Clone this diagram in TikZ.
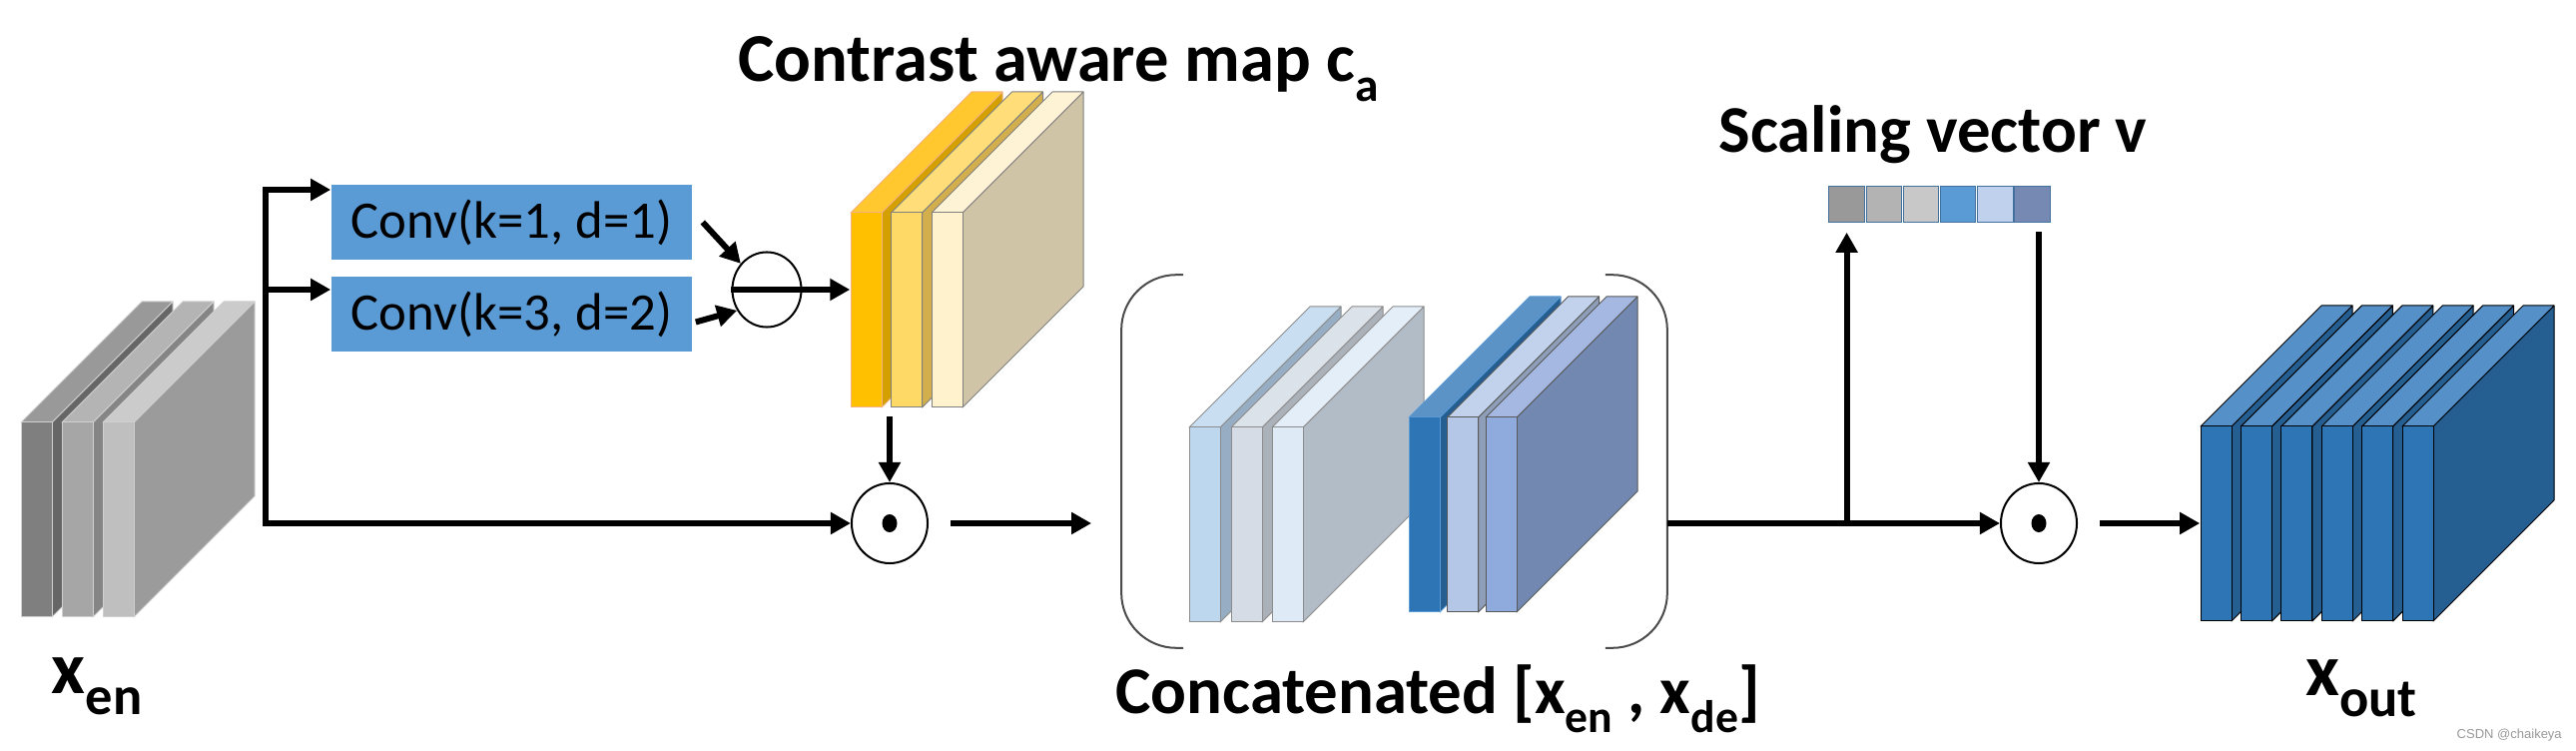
\documentclass[tikz,border=0pt]{standalone}
\usepackage{fontspec}
\setmainfont{Carlito}
\newfontfamily\markfont{Liberation Sans}
\usepackage{tikz}
\usetikzlibrary{arrows.meta,shapes.geometric,calc,positioning}

\definecolor{convblue}{HTML}{5B9BD5}
\definecolor{gAf}{HTML}{7F7F7F}\definecolor{gAt}{HTML}{999999}\definecolor{gAs}{HTML}{666666}
\definecolor{gBf}{HTML}{A6A6A6}\definecolor{gBt}{HTML}{B4B4B4}\definecolor{gBs}{HTML}{858585}
\definecolor{gCf}{HTML}{BFBFBF}\definecolor{gCt}{HTML}{CBCBCB}\definecolor{gCs}{HTML}{9B9B9B}
\definecolor{gEdge}{HTML}{D0D0D0}
\definecolor{yAf}{HTML}{FFC000}\definecolor{yAt}{HTML}{FFC82E}\definecolor{yAs}{HTML}{D4A000}
\definecolor{yBf}{HTML}{FFD966}\definecolor{yBt}{HTML}{FFDE7A}\definecolor{yBs}{HTML}{D2AE4C}
\definecolor{yCf}{HTML}{FFF2CC}\definecolor{yCt}{HTML}{FFF3D6}\definecolor{yCs}{HTML}{CFC4A6}
\definecolor{yEdge}{HTML}{F4B183}
\definecolor{lAf}{HTML}{BDD7EE}\definecolor{lAt}{HTML}{C9DEF1}\definecolor{lAs}{HTML}{97ADC3}
\definecolor{lBf}{HTML}{D6DCE5}\definecolor{lBt}{HTML}{DCE2E9}\definecolor{lBs}{HTML}{ABB1B8}
\definecolor{lCf}{HTML}{DEEBF7}\definecolor{lCt}{HTML}{E3EEF9}\definecolor{lCs}{HTML}{B2BCC6}
\definecolor{rAf}{HTML}{2E75B6}\definecolor{rAt}{HTML}{5B93C7}\definecolor{rAs}{HTML}{255E91}
\definecolor{rBf}{HTML}{B4C7E7}\definecolor{rBt}{HTML}{C2D2EC}\definecolor{rBs}{HTML}{8E9DB8}
\definecolor{rCf}{HTML}{8FAADC}\definecolor{rCt}{HTML}{A5B8E2}\definecolor{rCs}{HTML}{7388B0}
\definecolor{oF}{HTML}{2E75B6}\definecolor{oT}{HTML}{5590C8}\definecolor{oS}{HTML}{255E91}
\definecolor{vecA}{HTML}{999999}\definecolor{vecB}{HTML}{B3B3B3}\definecolor{vecC}{HTML}{C8C8C8}
\definecolor{vecD}{HTML}{5B9BD5}\definecolor{vecE}{HTML}{BFD1EC}\definecolor{vecF}{HTML}{7589B3}
\definecolor{cellEdge}{HTML}{41719C}

\tikzstyle{arrow}=[->,line width=.06cm,draw=black]
\tikzstyle{conv}=[rectangle,fill=convblue,inner sep=0pt,minimum width=3.61cm,
                  minimum height=.75cm,font=\fontsize{15}{16}\selectfont]
\tikzstyle{opcirc}=[ellipse,draw=black,line width=.02cm,fill=white,
                    minimum width=.69cm,minimum height=.75cm,inner sep=0pt]
\tikzstyle{odot}=[ellipse,draw=black,line width=.02cm,fill=white,
                  minimum width=.76cm,minimum height=.8cm,inner sep=0pt]
\tikzstyle{cell}=[rectangle,draw=cellEdge,line width=.01cm,minimum size=.355cm,inner sep=0pt]
\tikzstyle{block}=[rectangle,inner sep=0pt,minimum height=1.95cm]
\tikzstyle{title}=[inner sep=0pt,anchor=base,font=\fontsize{19}{22}\selectfont\bfseries]
\tikzstyle{varname}=[inner sep=0pt,anchor=base,font=\fontsize{21}{24}\selectfont\bfseries]
\tikzstyle{catframe}=[draw=black!70,line width=.02cm,rounded corners=.55cm]

% one feature map slab: x, top y, front, top, side, edge
\newcommand{\featslab}[6]{%
  \filldraw[draw=#6,fill=#5,line width=.01cm,line join=round]
    (#1+31,#2) -- ++(121,-121) -- ++(0,195) -- ++(-121,121) -- cycle;
  \filldraw[draw=#6,fill=#4,line width=.01cm,line join=round]
    (#1,#2) -- ++(121,-121) -- ++(31,0) -- ++(-121,121) -- cycle;
  \filldraw[draw=#6,fill=#3,line width=.01cm] (#1,#2) rectangle ++(31,195);}
\newcommand{\lowidx}[2]{\raisebox{-.28em}{\fontsize{#1}{#1}\selectfont #2}}

\begin{document}
\begin{tikzpicture}[>={Triangle[length=.2cm,width=.21cm]},x=.01cm,y=-.01cm]
  \useasboundingbox (0,0) rectangle (2580,752);
  \fill[white] (0,0) rectangle (2580,752);

	% feature maps
	\featslab{21}{423}{gAf}{gAt}{gAs}{gEdge}
	\featslab{62}{423}{gBf}{gBt}{gBs}{gEdge}
	\featslab{103}{423}{gCf}{gCt}{gCs}{gEdge}
	\featslab{852}{213}{yAf}{yAt}{yAs}{yEdge}
	\featslab{892.5}{213}{yBf}{yBt}{yBs}{black!50}
	\featslab{933}{213}{yCf}{yCt}{yCs}{black!50}
	\featslab{1191}{428}{lAf}{lAt}{lAs}{black!45}
	\featslab{1233}{428}{lBf}{lBt}{lBs}{black!45}
	\featslab{1274}{428}{lCf}{lCt}{lCs}{black!45}
	\featslab{1411}{418}{rAf}{rAt}{rAs}{convblue}
	\featslab{1449.5}{418}{rBf}{rBt}{rBs}{black!65}
	\featslab{1488}{418}{rCf}{rCt}{rCs}{black!65}
	\foreach \i in {0,...,5}
	  \featslab{2204+40.4*\i}{427}{oF}{oT}{oS}{black};

	\node[block,minimum width=1.13cm] (xen) at (77.5,520.5) {};
	\node[block,minimum width=1.12cm] (ca) at (908,310.5) {};
	\node[block,minimum width=2.33cm] (xout) at (2320.5,524.5) {};
	\node[inner sep=0pt,minimum width=5.45cm,minimum height=3.72cm] (cat) at (1396.5,462) {};

	\node[conv] (conv1) at (512.5,222.5) {Conv(k=1, d=1)};
	\node[conv] (conv2) at (512.5,314.5) {Conv(k=3, d=2)};
	\node[opcirc] (sub) at (768,290) {};
	\node[odot] (mul1) at (891,524) {};
	\node[odot] (mul2) at (2042,524) {};
	\fill (mul1.center) ellipse (7.5 and 9);
	\fill (mul2.center) ellipse (7.5 and 9);

	\foreach \c [count=\i] in {vecA,vecB,vecC,vecD,vecE,vecF}
	  \node[cell,fill=\c] (v\i) at (1812.4+37.2*\i,204.5) {};

	\coordinate (br1) at (266,190);
	\coordinate (br2) at (266,290);
	\coordinate (up) at (v1.south |- mul2);

	% brackets
	\draw[catframe] ($(cat.north west)+(62,0)$) -- (cat.north west)
	                -- (cat.south west) -- ($(cat.south west)+(62,0)$);
	\draw[catframe] ($(cat.north east)+(-62,0)$) -- (cat.north east)
	                -- (cat.south east) -- ($(cat.south east)+(-62,0)$);

	% connections
	\draw[arrow] ($(br1)+(-3,0)$) -- (conv1.west |- br1);
	\draw[arrow] (br2) -- (conv2.west |- br2);
	\draw[arrow] (br1) |- (mul1.west);
	\draw[arrow] ($(conv1.east)+(10,0)$) -- (sub.135);
	\draw[arrow] ($(conv2.east)+(3,8)$) -- (sub.215);
	\draw[arrow] (sub.west) -- (sub.center -| ca.west);
	\draw[arrow] ($(ca.south -| mul1)+(0,8)$) -- (mul1.north);
	\draw[arrow] ($(mul1.east)+(22,0)$) -- ($(cat.west |- mul1)+(-30,0)$);
	\draw[arrow] (cat.east |- mul2) -- (mul2.west);
	\draw[arrow] (up) -- ($(v1.south)+(0,10)$);
	\draw[arrow] ($(v6.south -| mul2)+(0,9)$) -- (mul2.north);
	\draw[arrow] ($(mul2.east)+(22,0)$) -- (xout.west |- mul2);

	% labels
	\node[varname] (lxen) at (97,695) {x\lowidx{15.5}{en}};
	\node[varname] (lxout) at (2365,697) {x\lowidx{15.5}{out}};
	\node[title,font=\fontsize{19.5}{22}\selectfont\bfseries] (lca) at (1060,82) {Contrast aware map c\lowidx{13.5}{a}};
	\node[title] (lv) at (1936,153) {Scaling vector v};
	\node[title] (lcat) at (1440,715) {Concatenated [x\lowidx{13}{en} , x\lowidx{13}{de}]};
	\node[anchor=base west,inner sep=0pt,text=black!40,
	      font=\fontsize{3.7}{4}\selectfont\markfont] (mark) at (2460,740) {CSDN @chaikeya};

\end{tikzpicture}
\end{document}
